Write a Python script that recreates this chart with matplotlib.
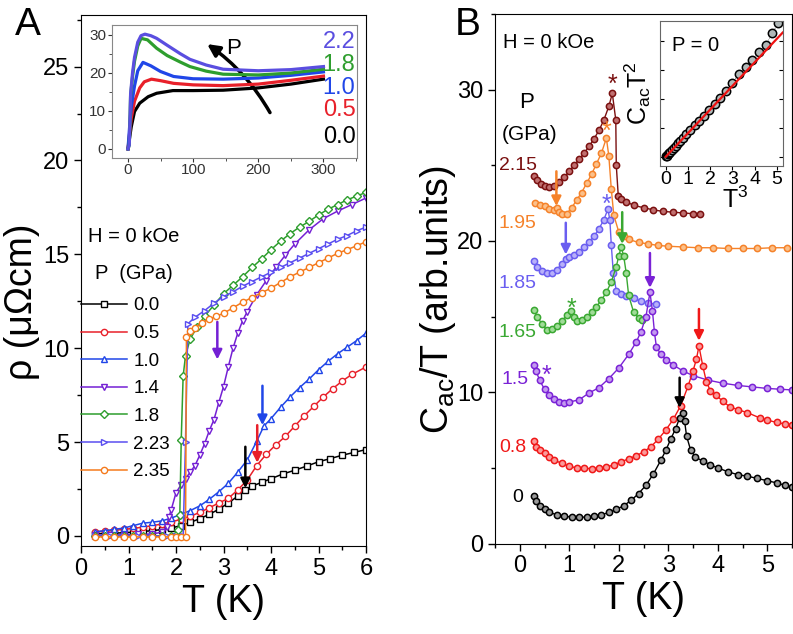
import matplotlib
matplotlib.use("Agg")
import matplotlib.pyplot as plt
from matplotlib.patches import FancyArrowPatch
from matplotlib.ticker import MultipleLocator

plt.rcParams['font.family'] = ['Liberation Sans', 'DejaVu Sans']
plt.rcParams['mathtext.fontset'] = 'custom'
plt.rcParams['mathtext.rm'] = 'Liberation Sans'
plt.rcParams['mathtext.it'] = 'Liberation Sans:italic'
plt.rcParams['mathtext.default'] = 'regular'

W, H = 793, 634

# ---------------- panel A: resistivity ----------------
a_T_00 = [0.3, 0.5, 0.7, 0.9, 1.1, 1.3, 1.5, 1.7, 1.9, 2.1, 2.3, 2.5, 2.7, 2.9, 3.1, 3.3, 3.45, 3.6,
          3.8, 4.0, 4.25, 4.5, 4.75, 5.0, 5.25, 5.5, 5.75, 6.0]
a_rho_00 = [0.12, 0.13, 0.15, 0.17, 0.2, 0.24, 0.28, 0.34, 0.42, 0.55, 0.72, 0.92, 1.15, 1.42, 1.75, 2.12,
            2.45, 2.65, 2.85, 3.05, 3.3, 3.5, 3.72, 3.95, 4.12, 4.3, 4.45, 4.6]
a_T_05 = [0.3, 0.5, 0.7, 0.9, 1.1, 1.3, 1.5, 1.7, 1.9, 2.1, 2.3, 2.5, 2.7, 2.9, 3.1, 3.3, 3.5, 3.7, 3.9,
          4.1, 4.3, 4.5, 4.7, 4.9, 5.1, 5.3, 5.5, 5.7, 6.0]
a_rho_05 = [0.22, 0.26, 0.3, 0.35, 0.4, 0.47, 0.55, 0.63, 0.75, 0.88, 1.05, 1.25, 1.5, 1.75, 2.0, 2.45,
            2.98, 3.75, 4.35, 4.85, 5.3, 5.85, 6.4, 6.9, 7.4, 7.85, 8.25, 8.6, 9.0]
a_T_10 = [0.3, 0.5, 0.7, 0.9, 1.1, 1.3, 1.5, 1.7, 1.9, 2.1, 2.3, 2.5, 2.7, 2.9, 3.1, 3.3, 3.5, 3.7, 3.85,
          4.0, 4.2, 4.4, 4.6, 4.8, 5.0, 5.2, 5.4, 5.6, 5.8, 6.0]
a_rho_10 = [0.22, 0.28, 0.35, 0.42, 0.55, 0.68, 0.73, 0.8, 0.95, 1.15, 1.35, 1.6, 1.95, 2.35, 2.8, 3.4,
            4.05, 5.05, 5.85, 6.25, 6.85, 7.4, 7.9, 8.35, 8.85, 9.3, 9.7, 10.05, 10.4, 10.8]
a_T_14 = [0.3, 0.6, 0.9, 1.2, 1.5, 1.7, 1.8, 1.85, 1.9, 2.0, 2.1, 2.2, 2.3, 2.4, 2.5, 2.6, 2.7, 2.8, 2.9,
          3.0, 3.1, 3.2, 3.3, 3.4, 3.5, 3.7, 3.9, 4.1, 4.3, 4.5, 4.8, 5.1, 5.4, 5.7, 6.0]
a_rho_14 = [0.05, 0.05, 0.06, 0.08, 0.1, 0.2, 0.5, 1.0, 1.4, 2.3, 2.7, 3.05, 3.4, 3.75, 4.3, 4.9, 5.6, 6.2,
            7.1, 7.95, 9.0, 10.0, 10.8, 11.45, 11.95, 12.85, 13.6, 14.3, 14.95, 15.55, 16.3, 16.9, 17.3,
            17.65, 18.0]
a_T_18 = [0.3, 0.5, 0.7, 0.9, 1.1, 1.3, 1.5, 1.7, 1.9, 2.0, 2.05, 2.08, 2.11, 2.15, 2.2, 2.3, 2.45, 2.6,
          2.8, 3.0, 3.2, 3.4, 3.6, 3.8, 4.0, 4.2, 4.4, 4.6, 4.8, 5.0, 5.2, 5.4, 5.6, 5.8, 6.0]
a_rho_18 = [0.0, 0.0, 0.0, 0.0, 0.0, 0.0, 0.0, 0.0, 0.02, 0.05, 0.3, 1.1, 5.1, 8.5, 9.6, 10.5, 11.15,
            11.7, 12.3, 12.9, 13.35, 13.8, 14.3, 14.75, 15.25, 15.7, 16.1, 16.45, 16.75, 17.1, 17.4,
            17.65, 17.9, 18.1, 18.3]
a_T_223 = [0.3, 0.6, 0.9, 1.2, 1.5, 1.8, 2.0, 2.15, 2.2, 2.25, 2.4, 2.6, 2.8, 3.0, 3.2, 3.4, 3.6, 3.8,
           4.0, 4.2, 4.4, 4.6, 4.8, 5.0, 5.2, 5.4, 5.6, 5.8, 6.0]
a_rho_223 = [0.0, 0.0, 0.0, 0.0, 0.0, 0.0, 0.0, 0.0, 5.0, 11.3, 11.65, 12.0, 12.4, 12.75, 13.0, 13.3,
             13.55, 13.8, 14.05, 14.3, 14.55, 14.8, 15.05, 15.3, 15.55, 15.8, 16.0, 16.25, 16.45]
a_T_235 = [0.3, 0.5, 0.7, 0.9, 1.1, 1.3, 1.5, 1.7, 1.9, 2.0, 2.1, 2.2, 2.22, 2.3, 2.4, 2.55, 2.7, 2.85,
           3.0, 3.2, 3.4, 3.6, 3.8, 4.0, 4.2, 4.4, 4.6, 4.8, 5.0, 5.2, 5.4, 5.6, 5.8, 6.0]
a_rho_235 = [-0.05, -0.05, -0.05, -0.05, -0.05, -0.05, -0.05, -0.05, -0.05, -0.05, -0.05, -0.05, 10.6,
             10.9, 11.1, 11.35, 11.55, 11.7, 11.86, 12.15, 12.45, 12.7, 12.95, 13.2, 13.5, 13.8, 14.05,
             14.3, 14.55, 14.8, 15.05, 15.25, 15.45, 15.67]

a_labels = ['0.0', '0.5', '1.0', '1.4', '1.8', '2.23', '2.35']
a_colors = ['black', '#e8202a', '#2046e8', '#7420d4', '#2e9e2e', '#5a4ef0', '#f57a1c']
a_markers = ['s', 'o', '^', 'v', 'D', '>', 'o']
# onset arrows
a_arrow_T = [3.46, 3.71, 3.82, 2.87]
a_arrow_top = [4.75, 5.9, 8.0, 11.4]
a_arrow_bot = [2.54, 3.9, 5.9, 9.4]
a_arrow_col = ['black', '#e8202a', '#2046e8', '#7420d4']

# inset A: rho(T) up to 300 K
ia_T_00 = [0, 3, 5, 10, 18, 31, 44, 69, 100, 146, 200, 250, 300]
ia_rho_00 = [0, 3.5, 5.8, 9.8, 12, 13.7, 14.6, 15.3, 15.3, 15.4, 16.0, 17.0, 18.3]
ia_T_05 = [0, 3, 5, 10, 18, 25, 36, 50, 70, 100, 146, 200, 250, 300]
ia_rho_05 = [0, 5, 8, 12.5, 16, 17.6, 18.3, 17.9, 17.2, 16.8, 16.6, 17.0, 18.0, 19.1]
ia_T_10 = [0, 3, 5, 10, 15, 23, 35, 50, 70, 100, 146, 200, 250, 300]
ia_rho_10 = [0, 7, 11, 16.5, 20.5, 22.7, 21.8, 20.3, 19.0, 18.4, 18.3, 18.6, 19.3, 20.2]
ia_T_18 = [0, 2, 4, 7, 10, 15, 20, 30, 44, 60, 80, 95, 120, 146, 200, 250, 300]
ia_rho_18 = [0, 1, 14, 19, 23, 27, 29, 28.6, 26.4, 24.5, 22.8, 21.6, 20.4, 19.6, 19.4, 19.9, 20.9]
ia_T_22 = [0, 2, 4, 7, 10, 15, 20, 26, 35, 44, 60, 80, 95, 120, 146, 200, 250, 300]
ia_rho_22 = [0, 1, 14.5, 20, 24, 28, 29.7, 30.1, 29.7, 29.0, 27.2, 25.0, 23.5, 22.0, 20.9, 20.5, 20.8, 21.6]
ia_labels = ['0.0', '0.5', '1.0', '1.8', '2.2']
ia_colors = ['black', '#e8202a', '#2046e8', '#2e9e2e', '#5a4ee0']

# ---------------- panel B: specific heat ----------------
b_T_215 = [0.28, 0.35, 0.42, 0.5, 0.6, 0.7, 0.8, 0.9, 1.0, 1.1, 1.2, 1.3, 1.4, 1.5, 1.6, 1.7, 1.8, 1.87,
           1.94, 1.95, 1.99, 2.05, 2.15, 2.3, 2.5, 2.7, 2.9, 3.1, 3.3, 3.5, 3.64]
b_C_215 = [24.3, 24.0, 23.75, 23.6, 23.55, 23.65, 23.9, 24.2, 24.6, 25.0, 25.4, 25.8, 26.25, 26.75, 27.3,
           28.0, 28.9, 29.75, 28.0, 25.0, 23.0, 22.8, 22.6, 22.35, 22.2, 22.05, 21.95, 21.9, 21.85, 21.8, 21.8]
b_T_195 = [0.3, 0.4, 0.5, 0.6, 0.7, 0.75, 0.8, 0.85, 0.95, 1.05, 1.15, 1.25, 1.35, 1.45, 1.55, 1.65, 1.75,
           1.8, 1.85, 1.9, 2.0, 2.1, 2.2, 2.4, 2.6, 2.8, 3.0, 3.3, 3.6, 3.9, 4.2, 4.5, 4.8, 5.1, 5.4]
b_C_195 = [22.5, 22.4, 22.3, 22.1, 22.05, 22.2, 21.9, 21.75, 21.8, 22.2, 22.7, 23.2, 23.8, 24.4, 25.1,
           25.8, 26.8, 25.6, 23.4, 21.7, 20.6, 20.3, 20.1, 19.9, 19.8, 19.7, 19.65, 19.6, 19.55, 19.55,
           19.5, 19.5, 19.5, 19.55, 19.55]
b_T_185 = [0.28, 0.35, 0.45, 0.55, 0.65, 0.75, 0.85, 0.93, 1.0, 1.1, 1.2, 1.3, 1.4, 1.5, 1.6, 1.7, 1.78,
           1.82, 1.85, 1.89, 1.95, 2.05, 2.15, 2.3, 2.45, 2.6, 2.76]
b_C_185 = [18.65, 18.3, 18.0, 17.85, 17.9, 18.1, 18.5, 18.8, 18.95, 19.05, 19.25, 19.6, 19.95, 20.3,
           20.8, 21.4, 22.1, 21.4, 19.7, 17.9, 16.7, 16.5, 16.35, 16.2, 16.0, 15.9, 15.8]
b_T_165 = [0.28, 0.35, 0.45, 0.55, 0.65, 0.75, 0.85, 0.95, 1.04, 1.1, 1.15, 1.25, 1.35, 1.45, 1.55, 1.65,
           1.75, 1.85, 1.95, 2.0, 2.05, 2.1, 2.15, 2.2, 2.3, 2.4, 2.46]
b_C_165 = [15.45, 15.0, 14.5, 14.1, 14.15, 14.35, 14.7, 15.1, 15.35, 15.0, 14.7, 14.75, 14.95, 15.3,
           15.65, 16.1, 16.6, 17.3, 18.3, 19.0, 19.6, 19.0, 17.9, 16.4, 15.3, 14.9, 14.8]
b_T_15 = [0.28, 0.33, 0.4, 0.5, 0.6, 0.7, 0.8, 0.9, 1.0, 1.2, 1.4, 1.6, 1.8, 2.0, 2.2, 2.35, 2.45, 2.55,
          2.63, 2.68, 2.72, 2.76, 2.85, 2.96, 3.1, 3.3, 3.5, 3.8, 4.1, 4.4, 4.7, 5.0, 5.25, 5.5]
b_C_15 = [11.8, 11.4, 10.8, 10.2, 9.8, 9.55, 9.35, 9.3, 9.35, 9.5, 9.95, 10.3, 10.9, 11.6, 12.5, 13.3,
          14.0, 15.0, 16.6, 15.4, 14.0, 13.0, 12.5, 12.15, 11.8, 11.4, 11.1, 10.8, 10.6, 10.45, 10.35,
          10.25, 10.2, 10.15]
b_T_08 = [0.28, 0.32, 0.4, 0.5, 0.6, 0.7, 0.85, 1.0, 1.15, 1.3, 1.45, 1.6, 1.75, 1.9, 2.05, 2.2, 2.35,
          2.5, 2.65, 2.8, 2.95, 3.1, 3.25, 3.4, 3.5, 3.57, 3.62, 3.7, 3.77, 3.85, 3.97, 4.1, 4.24, 4.4,
          4.6, 4.85, 5.0, 5.2, 5.35, 5.5]
b_C_08 = [6.75, 6.4, 6.2, 5.95, 5.7, 5.5, 5.3, 5.1, 5.0, 4.97, 4.95, 4.97, 5.05, 5.2, 5.4, 5.6, 5.8,
          6.05, 6.4, 6.9, 7.5, 8.2, 9.1, 10.4, 11.4, 12.2, 13.05, 11.7, 10.7, 10.1, 9.8, 9.4, 9.05, 8.85,
          8.65, 8.3, 8.15, 8.0, 7.9, 7.85]
b_T_0 = [0.28, 0.32, 0.4, 0.5, 0.6, 0.75, 0.9, 1.05, 1.2, 1.35, 1.5, 1.65, 1.8, 1.95, 2.1, 2.25, 2.4,
         2.55, 2.7, 2.85, 2.95, 3.05, 3.15, 3.23, 3.29, 3.33, 3.37, 3.45, 3.55, 3.7, 3.85, 4.0, 4.2, 4.4,
         4.6, 4.8, 5.0, 5.2, 5.35, 5.5]
b_C_0 = [3.15, 2.8, 2.45, 2.25, 2.05, 1.9, 1.8, 1.75, 1.73, 1.75, 1.8, 1.9, 2.05, 2.25, 2.5, 2.85, 3.3,
         3.85, 4.6, 5.5, 6.15, 6.9, 7.6, 8.3, 8.65, 8.1, 7.1, 6.2, 5.7, 5.45, 5.2, 5.0, 4.75, 4.55, 4.45,
         4.3, 4.15, 4.0, 3.85, 3.72]

b_labels = ['2.15', '1.95', '1.85', '1.65', '1.5', '0.8', '0']
b_colors = ['#7a1010', '#f5822a', '#6a5ef0', '#3aa832', '#7a22d6', '#f01818', 'black']
b_light = ['#c07070', '#fbc08a', '#b8b0fa', '#a0dc98', '#c49af0', '#fa9a9a', '#9a9a9a']
# arrows and star marks
b_arrow_T = [0.74, 0.93, 2.07, 2.63, 3.62, 3.23]
b_arrow_top = [24.6, 21.2, 21.9, 19.2, 15.5, 10.96]
b_arrow_bot = [22.3, 19.1, 19.8, 16.9, 13.4, 8.96]
b_arrow_col = ['#f5822a', '#6a5ef0', '#3aa832', '#7a22d6', '#f01818', 'black']
b_star_T = [1.87, 1.75, 1.75, 1.04, 0.55]
b_star_C = [30.3, 27.2, 22.4, 15.5, 11.1]
b_star_col = ['#7a1010', '#f5822a', '#6a5ef0', '#3aa832', '#7a22d6']

# inset B: C_ac T^2 vs T^3 at P = 0
ib_x = [0.02, 0.05, 0.09, 0.14, 0.2, 0.27, 0.35, 0.45, 0.55, 0.65, 0.78, 0.92, 1.1, 1.3, 1.5, 1.72, 1.95,
        2.2, 2.45, 2.7, 3.0, 3.3, 3.6, 3.9, 4.2, 4.5, 4.8, 5.05]
ib_y = [0.02, 0.04, 0.08, 0.12, 0.17, 0.23, 0.3, 0.38, 0.46, 0.55, 0.65, 0.77, 0.92, 1.08, 1.24, 1.42,
        1.62, 1.82, 2.02, 2.25, 2.55, 2.85, 3.1, 3.35, 3.6, 3.85, 4.25, 4.6]
ib_fit_x = [0.0, 5.27]
ib_fit_y = [0.0, 4.28]


def fig_xy(x, y):
    return x / W, 1 - y / H


fig = plt.figure(figsize=(W / 100, H / 100), dpi=100)

# ---------- panel A ----------
axA = fig.add_axes([81 / W, 1 - 545.7 / H, (366 - 81) / W, (545.7 - 15) / H])
a_T = [a_T_00, a_T_05, a_T_10, a_T_14, a_T_18, a_T_223, a_T_235]
a_rho = [a_rho_00, a_rho_05, a_rho_10, a_rho_14, a_rho_18, a_rho_223, a_rho_235]
for T, rho, lab, col, mk in zip(a_T, a_rho, a_labels, a_colors, a_markers):
    axA.plot(T, rho, color=col, marker=mk, ms=4.5 if mk != 'D' else 4, mfc='white', mec=col, mew=1.0,
             lw=1.1, label=lab)
for T, y0, y1, col in zip(a_arrow_T, a_arrow_top, a_arrow_bot, a_arrow_col):
    axA.annotate('', xy=(T, y1), xytext=(T, y0),
                 arrowprops=dict(arrowstyle='-|>', color=col, lw=1.8, mutation_scale=14,
                                 shrinkA=0, shrinkB=0))
axA.set_xlim(0, 6)
axA.set_ylim(-0.52, 27.75)
axA.xaxis.set_major_locator(MultipleLocator(1))
axA.xaxis.set_minor_locator(MultipleLocator(0.5))
axA.yaxis.set_major_locator(MultipleLocator(5))
axA.yaxis.set_minor_locator(MultipleLocator(2.5))
axA.tick_params(which='both', direction='out', labelsize=17, width=1)
axA.tick_params(which='major', length=5)
axA.tick_params(which='minor', length=3)
axA.set_xlabel('T (K)', fontsize=27, labelpad=3)
axA.set_ylabel('ρ (μΩcm)', fontsize=27)
axA.yaxis.set_label_coords(-0.145, 0.46)
leg = axA.legend(loc='upper left', bbox_to_anchor=(0.0, 0.468), frameon=False, fontsize=13.5,
                 handlelength=2.45, handletextpad=0.35, labelspacing=0.56, borderaxespad=0,
                 borderpad=0)
axA.text(0.025, 0.582, 'H = 0 kOe', transform=axA.transAxes, fontsize=14.5, va='center')
axA.text(0.05, 0.513, 'P  (GPa)', transform=axA.transAxes, fontsize=14.5, va='center')

# inset A
iaA = fig.add_axes([111.7 / W, 1 - 157.7 / H, (356.7 - 111.7) / W, (157.7 - 25) / H])
ia_T = [ia_T_00, ia_T_05, ia_T_10, ia_T_18, ia_T_22]
ia_rho = [ia_rho_00, ia_rho_05, ia_rho_10, ia_rho_18, ia_rho_22]
for T, rho, col in zip(ia_T, ia_rho, ia_colors):
    iaA.plot(T, rho, color=col, lw=2.3)
iaA.set_xlim(-25, 351)
iaA.set_ylim(-2.3, 32.5)
iaA.xaxis.set_major_locator(MultipleLocator(100))
iaA.xaxis.set_minor_locator(MultipleLocator(50))
iaA.yaxis.set_major_locator(MultipleLocator(10))
iaA.yaxis.set_minor_locator(MultipleLocator(5))
iaA.tick_params(which='both', direction='out', labelsize=11, pad=1, colors='#333333')
iaA.tick_params(which='major', length=3)
iaA.tick_params(which='minor', length=2)
for s in iaA.spines.values():
    s.set_color('#888888')
for lab, col, yv in zip(ia_labels, ia_colors, [3.2, 10.2, 16.1, 22.0, 28.1]):
    iaA.text(349, yv, lab, color=col, fontsize=17, ha='right', va='center')
arr = FancyArrowPatch((220, 8.9), (118, 27.9), connectionstyle='arc3,rad=0.12',
                      arrowstyle='-|>', mutation_scale=18, lw=2.5, color='black')
iaA.add_patch(arr)
iaA.text(150, 26.4, 'P', fontsize=16, va='center')

fig.text(*fig_xy(28, 25), 'A', fontsize=28, ha='center', va='center')

# ---------- panel B ----------
axB = fig.add_axes([495 / W, 1 - 543.5 / H, (792 - 495) / W, (543.5 - 14) / H])
b_T = [b_T_215, b_T_195, b_T_185, b_T_165, b_T_15, b_T_08, b_T_0]
b_C = [b_C_215, b_C_195, b_C_185, b_C_165, b_C_15, b_C_08, b_C_0]
for T, C, col, lc in zip(b_T, b_C, b_colors, b_light):
    axB.plot(T, C, color=col, marker='o', ms=4.5, mfc=lc, mec=col, mew=1.1, lw=1.0)
for T, y0, y1, col in zip(b_arrow_T, b_arrow_top, b_arrow_bot, b_arrow_col):
    axB.annotate('', xy=(T, y1), xytext=(T, y0),
                 arrowprops=dict(arrowstyle='-|>', color=col, lw=1.8, mutation_scale=14,
                                 shrinkA=0, shrinkB=0))
for T, C, col in zip(b_star_T, b_star_C, b_star_col):
    axB.text(T, C, '*', color=col, fontsize=18, ha='center', va='center')
axB.set_xlim(-0.5, 5.5)
axB.set_ylim(0, 35)
axB.xaxis.set_major_locator(MultipleLocator(1))
axB.xaxis.set_minor_locator(MultipleLocator(0.5))
axB.yaxis.set_major_locator(MultipleLocator(10))
axB.yaxis.set_minor_locator(MultipleLocator(5))
axB.tick_params(which='both', direction='out', labelsize=17, width=1)
axB.tick_params(which='major', length=5)
axB.tick_params(which='minor', length=3)
axB.set_xlabel('T (K)', fontsize=27, labelpad=3)
axB.set_ylabel('C$_{ac}$/T (arb.units)', fontsize=27)
axB.yaxis.set_label_coords(-0.125, 0.46)

label_px = [(518, 166), (517, 223), (517, 283), (517, 333), (515, 379), (513, 447), (518, 498)]
for lab, col, (px, py) in zip(b_labels, b_colors, label_px):
    fig.text(*fig_xy(px, py), lab, color=col, fontsize=14, ha='center', va='center')
fig.text(*fig_xy(527, 102), 'P', fontsize=16, ha='center', va='center')
fig.text(*fig_xy(530, 135), '(GPa)', fontsize=15, ha='center', va='center')
fig.text(*fig_xy(503, 42), 'H = 0 kOe', fontsize=14.5, ha='left', va='center')
fig.text(*fig_xy(468, 25), 'B', fontsize=28, ha='center', va='center')

# inset B
ibB = fig.add_axes([660 / W, 1 - 165.7 / H, (782.7 - 660) / W, (165.7 - 20.7) / H])
ibB.plot(ib_x, ib_y, color='#555555', lw=0.6, ls=':', marker='o', ms=6, mfc='#b0b8b8', mec='black',
         mew=1.1)
ibB.plot(ib_fit_x, ib_fit_y, color='#ee1111', lw=1.6)
ibB.set_xlim(-0.26, 5.27)
ibB.set_ylim(-0.31, 4.69)
ibB.xaxis.set_major_locator(MultipleLocator(1))
ibB.yaxis.set_major_locator(MultipleLocator(1))
ibB.tick_params(axis='y', which='both', direction='in', left=True, right=True, labelleft=False,
                length=3)
ibB.tick_params(axis='x', direction='out', labelsize=14, pad=1, length=3)
for s in ibB.spines.values():
    s.set_color('#666666')
ibB.text(0.1, 0.83, 'P = 0', transform=ibB.transAxes, fontsize=14.5, va='center')
fig.text(*fig_xy(638, 93), 'C$_{ac}$T$^{2}$', fontsize=18, rotation=90, ha='center', va='center')
fig.text(*fig_xy(735, 200), 'T$^{3}$', fontsize=18, ha='center', va='center')

fig.savefig('out.png', dpi=100)
